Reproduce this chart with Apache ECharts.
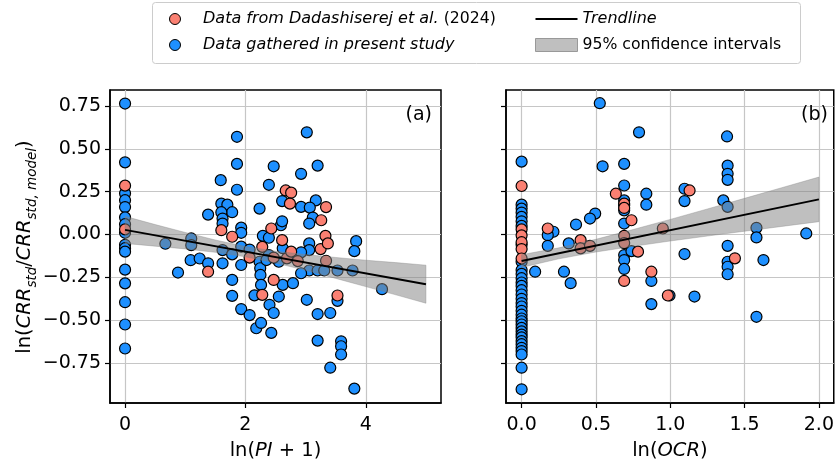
<!DOCTYPE html>
<html><head><meta charset="utf-8">
<script src="https://cdn.jsdelivr.net/npm/echarts@6/dist/echarts.min.js"></script>
<style>html,body{margin:0;padding:0;background:#fff}#c{width:837px;height:466px}</style>
</head><body><div id="c"></div>
<script>
// ---- data: panel (a) ln(PI+1) ----
const aBlue = [
[0,0.764],[0,0.421],[0,0.24],[0,0.20],[0,0.16],[0,0.10],[0,0.06],[0,0.01],[0,-0.06],[0,-0.08],[0,-0.10],[0,-0.205],[0,-0.285],[0,-0.395],[0,-0.525],[0,-0.665],
[0.67,-0.054],[0.88,-0.222],[1.1,-0.023],[1.1,-0.062],[1.09,-0.15],[1.24,-0.14],[1.38,0.116],[1.38,-0.168],
[1.59,0.317],[1.60,0.18],[1.70,0.174],[1.78,0.13],[1.60,0.13],[1.62,0.093],[1.62,0.064],[1.62,-0.091],[1.62,-0.168],[1.78,-0.116],[1.78,-0.265],[1.78,-0.358],
[1.86,0.570],[1.86,0.412],[1.86,0.261],[1.93,0.04],[1.93,0.01],[1.93,-0.071],[1.93,-0.178],[1.93,-0.435],
[2.07,-0.088],[2.07,-0.47],[2.18,-0.547],[2.15,-0.355],
[2.235,0.151],[2.235,-0.159],[2.246,-0.197],[2.25,-0.236],[2.26,-0.294],[2.26,-0.516],
[2.29,-0.008],[2.39,-0.019],[2.39,-0.12],[2.35,-0.149],[2.39,0.29],[2.40,-0.41],[2.43,-0.574],[2.47,0.398],[2.47,-0.458],[2.555,-0.362],[2.555,-0.159],
[2.59,0.054],[2.61,0.077],[2.61,0.195],[2.62,-0.08],[2.62,-0.294],[2.79,-0.284],
[2.925,0.354],[2.925,0.161],[3.02,0.596],[3.2,0.402],[3.17,0.199],[3.07,0.157],[3.12,0.099],[3.06,0.064],[3.84,-0.039],[3.81,-0.097],[3.06,-0.052],[3.06,-0.091],[2.925,-0.104],
[3.06,-0.21],[3.2,-0.21],[3.31,-0.21],[3.53,-0.21],[3.78,-0.21],[2.925,-0.226],[4.27,-0.319],[3.53,-0.387],[3.02,-0.381],[3.2,-0.464],[3.41,-0.458],[3.2,-0.619],[3.59,-0.623],[3.59,-0.652],[3.59,-0.70],[3.41,-0.777],[3.81,-0.899]
];
const aRed = [
[0,0.285],[0,0.03],[1.38,-0.217],[1.60,0.025],[1.78,-0.013],[2.07,-0.135],[2.28,-0.072],[2.28,-0.352],[2.43,0.035],[2.47,-0.135],[2.47,-0.265],[2.61,-0.033],
[2.67,0.257],[2.76,0.244],[2.74,0.18],[2.69,-0.139],[2.76,-0.1],[2.87,-0.155],[3.26,0.083],[3.25,-0.085],[3.34,0.16],[3.33,-0.008],[3.37,-0.052],[3.34,-0.153],[3.53,-0.356]
];
// ---- data: panel (b) ln(OCR) ----
const bBlue = [
[0,0.425],[0,0.174],[0,0.151],[0,0.128],[0,0.103],[0,0.077],[0,0.05],[0,-0.06],[0,-0.159],[0,-0.207],[0,-0.23],[0,-0.255],[0,-0.28],[0,-0.30],[0,-0.325],[0,-0.35],[0,-0.375],[0,-0.40],[0,-0.42],[0,-0.445],[0,-0.468],[0,-0.49],[0,-0.506],[0,-0.525],[0,-0.545],[0,-0.565],[0,-0.584],[0,-0.60],[0,-0.622],[0,-0.64],[0,-0.661],[0,-0.68],[0,-0.70],[0,-0.777],[0,-0.903],
[0.526,0.766],[0.79,0.596],[0.545,0.398],[0.69,0.412],[0.69,0.286],[0.839,0.238],[0.839,0.174],[0.69,0.199],[0.69,0.17],[0.69,0.141],[0.69,0.064],[0.495,0.122],[0.46,0.093],[0.366,0.058],
[0.214,0.016],[0.176,-0.004],[0.176,-0.066],[0.317,-0.052],[0.091,-0.217],[0.285,-0.217],[0.33,-0.284],[0.69,-0.12],[0.69,-0.149],[0.69,-0.201],[0.739,-0.097],[0.873,-0.271],[0.873,-0.406],
[1.382,0.572],[1.386,0.402],[1.386,0.354],[1.386,0.319],[1.096,0.267],[1.096,0.195],[1.357,0.199],[1.386,0.161],[1.58,0.039],[1.58,-0.017],[1.915,0.006],[1.096,-0.114],[1.386,-0.066],[1.386,-0.159],[1.386,-0.188],[1.386,-0.232],[1.627,-0.149],[0.995,-0.356],[1.163,-0.362],[1.58,-0.48]
];
const bRed = [
[0,0.283],[0,0.03],[0,-0.005],[0,-0.045],[0,-0.085],[0,-0.14],
[0.176,0.035],[0.397,-0.033],[0.397,-0.081],[0.46,-0.066],[0.634,0.238],[0.69,0.18],[0.69,0.155],[0.739,0.083],[0.69,-0.008],[0.69,-0.05],[0.783,-0.1],[0.69,-0.271],[0.873,-0.217],[0.95,0.035],[1.13,0.257],[1.435,-0.139],[0.984,-0.356]
];
// trendlines and 95% confidence bands
const trendA = [[0,0.027],[5,-0.29]];
const trendB = [[0,-0.155],[2,0.205]];
const bandAX = [0,0.5,1,1.5,2,2.5,3,3.5,4,4.5,5];
const bandALow = [-0.052,-0.068,-0.084,-0.104,-0.13,-0.166,-0.209,-0.256,-0.304,-0.352,-0.401];
const bandAHigh = [0.106,0.058,0.012,-0.032,-0.07,-0.097,-0.117,-0.134,-0.15,-0.164,-0.179];
const bandBX = [0,0.25,0.5,0.75,1,1.25,1.5,1.75,2];
const bandBLow = [-0.192,-0.142,-0.102,-0.069,-0.038,-0.009,0.019,0.047,0.075];
const bandBHigh = [-0.118,-0.078,-0.028,0.029,0.088,0.149,0.211,0.273,0.335];
// ticks
const xTicksA = [0,2,4];
const xTicksB = [0,0.5,1,1.5,2];
const yTicks = [-0.75,-0.5,-0.25,0,0.25,0.5,0.75];

const FF = 'DejaVu Sans';
const RED = '#FA8072', BLUE = '#1E90FF';
const N_RED = 'Data from Dadashiserej et al. (2024)';
const N_BLUE = 'Data gathered in present study';
const N_TREND = 'Trendline';
const N_CI = '95% confidence intervals';

function minus(s){ return s.replace('-', '\u2212'); }

function xAxisCfg(gi, min, max, ticks, fmt, name){
  return {
    type:'value', gridIndex:gi, min:min, max:max,
    axisLine:{show:true, onZero:false, lineStyle:{color:'#000', width:1.5}},
    axisTick:{show:true, customValues:ticks, length:5, lineStyle:{color:'#000', width:1.2}},
    axisLabel:{customValues:ticks, formatter:fmt, color:'#000', fontSize:19, fontFamily:FF, margin:13},
    splitLine:{show:true, lineStyle:{color:'#c6c6c6', width:1.2}},
    name:name, nameLocation:'middle', nameGap:38,
    nameTextStyle:{color:'#000', rich:{
      n:{fontSize:19.5, fontFamily:FF, color:'#000'},
      i:{fontSize:19.5, fontFamily:FF, fontStyle:'italic', color:'#000'}
    }}
  };
}
function yAxisCfg(gi, showLabel){
  return {
    type:'value', gridIndex:gi, min:-0.983, max:0.843,
    axisLine:{show:true, onZero:false, lineStyle:{color:'#000', width:1.5}},
    axisTick:{show:true, customValues:yTicks, length:5, lineStyle:{color:'#000', width:1.2}},
    axisLabel:{show:showLabel, customValues:yTicks, formatter:v=>minus(v.toFixed(2)), color:'#000', fontSize:19, fontFamily:FF, margin:9},
    splitLine:{show:true, lineStyle:{color:'#c6c6c6', width:1.2}}
  };
}
function scatter(name, data, color, gi){
  return {type:'scatter', name:name, xAxisIndex:gi, yAxisIndex:gi, data:data, symbolSize:11, z:2,
    itemStyle:{color:color, borderColor:'#000', borderWidth:1.2, opacity:1}, silent:true};
}
function band(xs, lo, hi, gi){
  return {type:'custom', name:N_CI, xAxisIndex:gi, yAxisIndex:gi, z:3, silent:true,
    data: xs.map((x,i)=>[x, lo[i], hi[i]]),
    encode:{x:0, y:[1,2]},
    itemStyle:{color:'#bfbfbf'},
    renderItem:function(params, api){
      if(params.dataIndex !== 0) return null;
      const pts = [];
      for(let i=0;i<xs.length;i++) pts.push(api.coord([xs[i], hi[i]]));
      for(let i=xs.length-1;i>=0;i--) pts.push(api.coord([xs[i], lo[i]]));
      return {type:'polygon', shape:{points:pts}, style:{fill:'rgba(128,128,128,0.5)', stroke:'rgba(128,128,128,0.35)', lineWidth:1}};
    }};
}
function trend(data, gi){
  return {type:'line', name:N_TREND, xAxisIndex:gi, yAxisIndex:gi, data:data, symbol:'none', z:4, silent:true,
    lineStyle:{color:'#000', width:2}, itemStyle:{color:'#000'}};
}

const chart = echarts.init(document.getElementById('c'), null, {renderer:'canvas'});
const legendText = {fontSize:16, fontFamily:FF, color:'#000', lineHeight:16, rich:{
  i:{fontSize:16, fontFamily:FF, fontStyle:'italic', color:'#000', lineHeight:16},
  n:{fontSize:15.7, fontFamily:FF, color:'#000', lineHeight:16}
}};
chart.setOption({
  animation:false,
  backgroundColor:'#fff',
  grid:[
    {left:110, top:90, width:331, height:316, show:true, borderColor:'#000', borderWidth:1.5, backgroundColor:'transparent'},
    {left:506, top:90, width:329, height:316, show:true, borderColor:'#000', borderWidth:1.5, backgroundColor:'transparent'}
  ],
  xAxis:[
    xAxisCfg(0, -0.25, 5.25, xTicksA, v=>String(v), '{n|ln(}{i|PI}{n| + 1)}'),
    xAxisCfg(1, -0.105, 2.1, xTicksB, v=>v.toFixed(1), '{n|ln(}{i|OCR}{n|)}')
  ],
  yAxis:[ yAxisCfg(0, true), yAxisCfg(1, false) ],
  legend:[
    {left:164, top:6, orient:'vertical', itemWidth:46, itemHeight:11, itemGap:10, selectedMode:false, z:5,
     textStyle:legendText,
     formatter:function(n){ return n===N_RED ? '{i|Data from Dadashiserej et al.} {n|(2024)}' : '{i|'+n+'}'; },
     data:[
       {name:N_RED, icon:'circle', itemStyle:{color:RED, borderColor:'#000', borderWidth:1}},
       {name:N_BLUE, icon:'circle', itemStyle:{color:BLUE, borderColor:'#000', borderWidth:1}}
     ]},
    {left:530, top:6, orient:'vertical', itemWidth:42, itemHeight:13, itemGap:10, selectedMode:false, z:5,
     textStyle:legendText,
     formatter:function(n){ return n===N_TREND ? '{i|Trendline}' : '{n|'+n+'}'; },
     data:[
       {name:N_TREND, icon:'path://M0,0 L42,0 L42,2 L0,2 Z', itemStyle:{color:'#000', borderWidth:0}},
       {name:N_CI, icon:'rect', itemStyle:{color:'#bfbfbf', borderColor:'#999', borderWidth:1}}
     ]}
  ],
  graphic:[
    {type:'rect', z:0, shape:{x:152.5, y:2.5, width:648, height:61, r:3}, style:{fill:'#fff', stroke:'#cccccc', lineWidth:1}},
    {type:'text', z:10, x:432, y:115, style:{text:'(a)', align:'right', verticalAlign:'middle', fontSize:19, fontFamily:FF, fill:'#000'}},
    {type:'text', z:10, x:828, y:115, style:{text:'(b)', align:'right', verticalAlign:'middle', fontSize:19, fontFamily:FF, fill:'#000'}},
    {type:'text', z:10, x:25, y:247, rotation:Math.PI/2,
     style:{text:'{n|ln(}{i|CRR}{s|std}{n|/}{i|CRR}{s|std, model}{n|)}', align:'center', verticalAlign:'middle', fill:'#000',
       rich:{
         n:{fontSize:19.5, fontFamily:FF, lineHeight:28, verticalAlign:'middle', fill:'#000'},
         i:{fontSize:19.5, fontFamily:FF, fontStyle:'italic', lineHeight:28, verticalAlign:'middle', fill:'#000'},
         s:{fontSize:13.5, fontFamily:FF, fontStyle:'italic', lineHeight:14, verticalAlign:'bottom', fill:'#000'}
       }}}
  ],
  series:[
    scatter(N_BLUE, aBlue, BLUE, 0),
    scatter(N_RED, aRed, RED, 0),
    band(bandAX, bandALow, bandAHigh, 0),
    trend(trendA, 0),
    scatter(N_BLUE, bBlue, BLUE, 1),
    scatter(N_RED, bRed, RED, 1),
    band(bandBX, bandBLow, bandBHigh, 1),
    trend(trendB, 1)
  ]
});
</script></body></html>
